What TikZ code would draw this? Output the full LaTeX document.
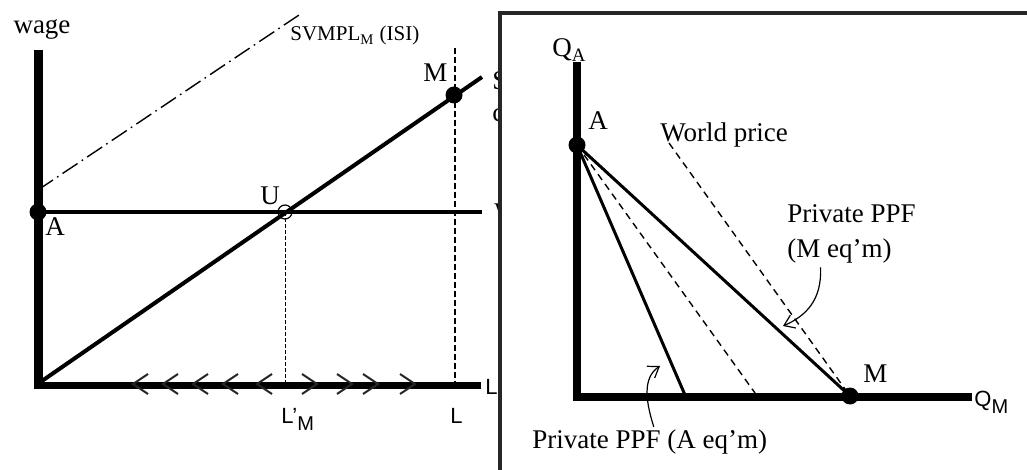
\documentclass[tikz,border=0pt]{standalone}
\usepackage{fontspec}
\setmainfont{Liberation Serif}
\setsansfont{Liberation Sans}
\usepackage{tikz}
\usetikzlibrary{arrows.meta, positioning, calc}
\newcommand{\lowsub}[1]{\raisebox{-3.5pt}{\fontsize{10}{11}\selectfont #1}}

\begin{document}
\begin{tikzpicture}[x=0.5pt, y=-0.5pt,
  axisln/.style={line width=4pt},
  curveln/.style={line width=2pt},
  dot/.style={circle, fill=black, inner sep=0pt, minimum size=8.5pt},
  lab/.style={font=\fontsize{13.5}{17.5}\selectfont, inner sep=0pt},
  sflab/.style={font=\sffamily\fontsize{11}{12}\selectfont, inner sep=0pt},
  chev/.style={line width=1pt, black!85},
  guide/.style={dash pattern=on 3.5pt off 2.5pt, line width=0.7pt}]
  \useasboundingbox (0,0) rectangle (1027,470);
  \clip (0,0) rectangle (1027,470);
  % left panel
  \coordinate (O) at (39,383);
  \coordinate (Ael) at (38,212);
  \coordinate (Mel) at (454,95);
  \coordinate (Uel) at (285,212);
  \draw[line width=4.5pt] (38,50) -- (38,388);
  \draw[line width=3.5pt] (34,385) -- (481,385);
  \draw[line width=0.7pt, dash pattern=on 9pt off 2.5pt on 0.8pt off 2.5pt] (38,190) -- (302,13);
  \draw[curveln] (Ael) -- (482,212);
  \draw[curveln] (O) -- (482,77);
  \draw[dash pattern=on 2pt off 1pt, line width=0.5pt] (Uel) -- (285,383);
  \draw[dash pattern=on 3pt off 1.5pt, line width=0.9pt] (455,48) -- (455,383);
  \foreach \x in {133,163,193,223,257}
    \draw[chev] (\x+15,374) -- (\x,384) -- (\x+15,394);
  \foreach \x in {317,352,378,415}
    \draw[chev] (\x-15,374) -- (\x,384) -- (\x-15,394);
  \node[dot] (Adl) at (Ael) {};
  \node[dot] (Mdl) at (Mel) {};
  \node[circle, draw, line width=0.6pt, inner sep=0pt, minimum size=7pt] (U) at (Uel) {};
  \node[lab] (wage) at (42,29) {wage};
  \node[lab, anchor=base west, font=\fontsize{10.5}{13}\selectfont] (svmpl) at (290,41) {SVMPL\textsubscript{M} (ISI)};
  \node[lab, anchor=base west] (Mlab) at (423,82) {M};
  \node[lab, anchor=base west] (Alab) at (45,235) {A};
  \node[lab, anchor=base west] (Ulab) at (260,205) {U};
  \node[lab, anchor=base west] (Slab) at (492,90) {S};
  \node[lab, anchor=base west] (clab) at (492,122) {c};
  \node[lab, anchor=base west] (Wlab) at (494,221) {W};
  \node[sflab, anchor=base west] (LMlab) at (485,394) {L\lowsub{M}};
  \node[sflab, anchor=base west] (Lplab) at (281,423) {L’\lowsub{M}};
  \node[sflab, anchor=base west] (Llab) at (450,423) {L};
  % right panel
  \draw[line width=1.8pt, black!85, fill=white] (500,13) rectangle (1040,480);
  \coordinate (Aer) at (577,145);
  \coordinate (Mer) at (850,396);
  \coordinate (ppfA) at (685,395);
  \coordinate (inner) at (755,393);
  \coordinate (world) at (669,143);
  \draw[axisln] (577,62) -- (577,401);
  \draw[axisln] (573,397) -- (972,397);
  \draw[line width=1.5pt] (Aer) -- (Mer);
  \draw[line width=1.5pt] (Aer) -- (ppfA);
  \draw[guide] (Aer) -- (inner);
  \draw[guide] (world) -- (Mer);
  \node[dot] (Adr) at (Aer) {};
  \node[dot] (Mdr) at (Mer) {};
  \node[lab, anchor=base west] (QA) at (552,57) {Q\textsubscript{A}};
  \node[lab, anchor=base west] (Ar) at (588,130) {A};
  \node[lab, anchor=base west] (Mr) at (863,382) {M};
  \node[sflab, anchor=base west] (QM) at (974,406) {Q\lowsub{M}};
  \node[lab, anchor=base west] (wp) at (660,142) {World price};
  \node[lab, anchor=north west, align=left] (mppf) at (787,204) {Private PPF\\(M eq'm)};
  \node[lab, anchor=base west] (appf) at (532,448) {Private PPF (A eq'm)};
  \coordinate (mhead) at (783,326);
  \coordinate (ahead) at (660,366);
  \draw[-{Straight Barb[length=5pt, width=7pt]}, line width=0.6pt]
    ([xshift=-15.5pt, yshift=-2pt]mppf.south) .. controls (822,300) and (806,316) .. (mhead);
  \draw[-{Straight Barb[length=5pt, width=7pt]}, line width=0.6pt]
    ([xshift=2pt, yshift=1pt]appf.north) .. controls (646,402) and (642,378) .. (ahead);
\end{tikzpicture}
\end{document}
